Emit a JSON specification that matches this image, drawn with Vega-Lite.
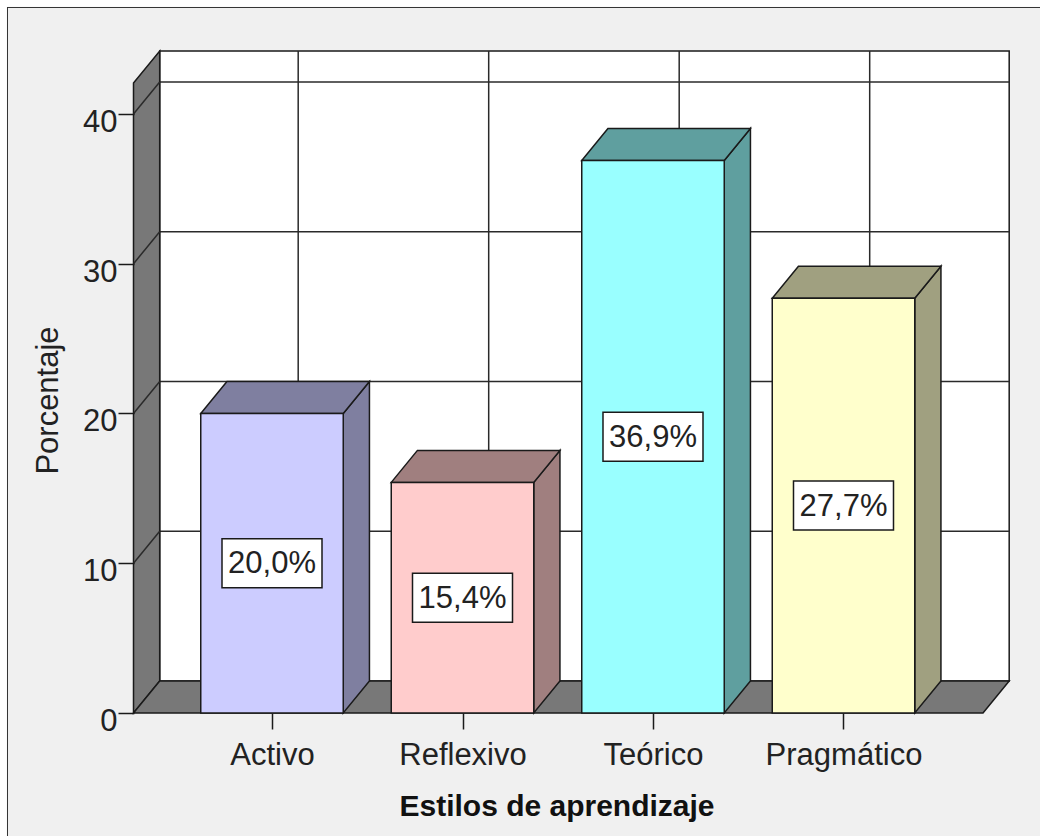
{
  "$schema": "https://vega.github.io/schema/vega-lite/v6.json",
  "width": 1033,
  "height": 829,
  "autosize": {"type": "none"},
  "padding": {"left": 7, "top": 7, "right": 0, "bottom": 0},
  "background": "white",
  "config": {"view": {"fill": "#f0f0f0", "stroke": null}, "axis": {"grid": false, "domain": false}},
  "datasets": {
    "estilos": [
      {"estilo": "Activo", "porcentaje": 20.0},
      {"estilo": "Reflexivo", "porcentaje": 15.4},
      {"estilo": "Teórico", "porcentaje": 36.9},
      {"estilo": "Pragmático", "porcentaje": 27.7}
    ],
    "rejilla": [{"valor": 10}, {"valor": 20}, {"valor": 30}, {"valor": 40}],
    "planos": [{"plano": "frente"}, {"plano": "fondo"}]
  },
  "layer": [
    {
      "data": {"values": [{}]},
      "mark": {"type": "rect", "fill": "white", "stroke": "#1a1a1a", "strokeWidth": 1.5},
      "encoding": {
        "x": {"datum": -0.5895, "type": "quantitative", "scale": {"domain": [-1.39108, 4.0315], "nice": false, "zero": false}},
        "x2": {"datum": 3.8698},
        "y": {"datum": 2.137, "type": "quantitative", "scale": {"domain": [-8.2137, 47.1452], "nice": false, "zero": false}},
        "y2": {"datum": 44.207}
      }
    },
    {
      "data": {"values": [{}]},
      "mark": {"type": "rule", "stroke": "#333333", "strokeWidth": 1},
      "encoding": {"x": {"datum": -1.3885, "type": "quantitative"}}
    },
    {
      "data": {"values": [{}]},
      "mark": {"type": "rule", "stroke": "#333333", "strokeWidth": 1},
      "encoding": {"y": {"datum": 47.112, "type": "quantitative"}}
    },
    {
      "data": {"name": "rejilla"},
      "transform": [{"calculate": "datum.valor + 2.137", "as": "yb"}],
      "mark": {"type": "rule", "stroke": "#2a2a2a", "strokeWidth": 1.5},
      "encoding": {
        "x": {"datum": -0.5895, "type": "quantitative"},
        "x2": {"datum": 3.8698},
        "y": {"field": "yb", "type": "quantitative"}
      }
    },
    {
      "data": {"name": "estilos"},
      "transform": [
        {"window": [{"op": "row_number", "as": "n"}]},
        {"calculate": "datum.n - 1 + 0.1375", "as": "xb"}
      ],
      "mark": {"type": "rule", "stroke": "#2a2a2a", "strokeWidth": 1.5},
      "encoding": {
        "x": {"field": "xb", "type": "quantitative"},
        "y": {"datum": 2.137, "type": "quantitative"},
        "y2": {"datum": 44.207}
      }
    },
    {
      "data": {"name": "planos"},
      "transform": [
        {"calculate": "datum.plano == 'fondo' ? 1 : 0", "as": "d"},
        {"calculate": "-0.727 + datum.d * 0.1375", "as": "xw"},
        {"calculate": "42.07 + datum.d * 2.137", "as": "ytop"},
        {"calculate": "datum.d * 2.137", "as": "ybot"}
      ],
      "mark": {"type": "area", "orient": "vertical", "fill": "#787878", "stroke": "#1a1a1a", "strokeWidth": 1.5, "opacity": 1},
      "encoding": {
        "x": {"field": "xw", "type": "quantitative"},
        "y": {"field": "ytop", "type": "quantitative", "stack": null},
        "y2": {"field": "ybot"}
      }
    },
    {
      "data": {"name": "rejilla"},
      "transform": [{"calculate": "datum.valor + 2.137", "as": "yb"}],
      "mark": {"type": "rule", "stroke": "#2a2a2a", "strokeWidth": 1.5},
      "encoding": {
        "x": {"datum": -0.727, "type": "quantitative"},
        "x2": {"datum": -0.5895},
        "y": {"field": "valor", "type": "quantitative"},
        "y2": {"field": "yb"}
      }
    },
    {
      "data": {"name": "planos"},
      "transform": [
        {"calculate": "datum.plano == 'fondo' ? 1 : 0", "as": "d"},
        {"calculate": "datum.d * 2.137", "as": "yf"},
        {"calculate": "-0.727 + datum.d * 0.1375", "as": "xa"},
        {"calculate": "3.7323 + datum.d * 0.1375", "as": "xz"}
      ],
      "mark": {"type": "area", "orient": "horizontal", "fill": "#787878", "stroke": "#1a1a1a", "strokeWidth": 1.5, "opacity": 1},
      "encoding": {
        "y": {"field": "yf", "type": "quantitative"},
        "x": {"field": "xa", "type": "quantitative", "stack": null},
        "x2": {"field": "xz"}
      }
    },
    {
      "data": {"name": "estilos"},
      "transform": [
        {"window": [{"op": "row_number", "as": "n"}]},
        {"fold": ["frente", "fondo"], "as": ["plano", "vacio"]},
        {"calculate": "datum.plano == 'fondo' ? 1 : 0", "as": "d"},
        {"calculate": "datum.n - 1 + 0.374 + datum.d * 0.1375", "as": "xs"},
        {"calculate": "datum.porcentaje + datum.d * 2.137", "as": "ys"},
        {"calculate": "datum.d * 2.137", "as": "ys0"}
      ],
      "mark": {"type": "area", "orient": "vertical", "stroke": "#1a1a1a", "strokeWidth": 1.5, "opacity": 1},
      "encoding": {
        "x": {"field": "xs", "type": "quantitative"},
        "y": {"field": "ys", "type": "quantitative", "stack": null},
        "y2": {"field": "ys0"},
        "fill": {"field": "estilo", "type": "nominal", "legend": null,
          "scale": {"domain": ["Activo", "Reflexivo", "Teórico", "Pragmático"], "range": ["#7f7fa0", "#a07f7f", "#5f9f9f", "#a0a080"]}}
      }
    },
    {
      "data": {"name": "estilos"},
      "transform": [
        {"window": [{"op": "row_number", "as": "n"}]},
        {"fold": ["frente", "fondo"], "as": ["plano", "vacio"]},
        {"calculate": "datum.plano == 'fondo' ? 1 : 0", "as": "d"},
        {"calculate": "datum.n - 1 - 0.374 + datum.d * 0.1375", "as": "xl"},
        {"calculate": "datum.n - 1 + 0.374 + datum.d * 0.1375", "as": "xr"},
        {"calculate": "datum.porcentaje + datum.d * 2.137", "as": "yt"}
      ],
      "mark": {"type": "area", "orient": "horizontal", "stroke": "#1a1a1a", "strokeWidth": 1.5, "opacity": 1},
      "encoding": {
        "y": {"field": "yt", "type": "quantitative"},
        "x": {"field": "xl", "type": "quantitative", "stack": null},
        "x2": {"field": "xr"},
        "fill": {"field": "estilo", "type": "nominal", "legend": null,
          "scale": {"domain": ["Activo", "Reflexivo", "Teórico", "Pragmático"], "range": ["#7f7fa0", "#a07f7f", "#5f9f9f", "#a0a080"]}}
      }
    },
    {
      "data": {"name": "estilos"},
      "transform": [
        {"window": [{"op": "row_number", "as": "n"}]},
        {"calculate": "datum.n - 1 - 0.374", "as": "x0"},
        {"calculate": "datum.n - 1 + 0.374", "as": "x1"}
      ],
      "mark": {"type": "rect", "stroke": "#1a1a1a", "strokeWidth": 1.5, "opacity": 1},
      "encoding": {
        "x": {"field": "x0", "type": "quantitative",
          "axis": {"values": [0, 1, 2, 3], "labelExpr": "['Activo','Reflexivo','Teórico','Pragmático'][datum.value]", "title": "Estilos de aprendizaje", "offset": -123, "zindex": 1, "domain": false, "grid": false, "ticks": true, "tickSize": 16, "tickColor": "#1a1a1a", "tickWidth": 1.5, "labelFont": "Liberation Sans", "labelFontSize": 31, "labelColor": "#222222", "labelPadding": 35, "labelBaseline": "alphabetic", "labelFlush": false, "labelOverlap": false, "titleFont": "Liberation Sans", "titleFontSize": 30, "titleFontWeight": "bold", "titleColor": "#111111", "titleX": 549.5, "titleY": 102, "titleBaseline": "alphabetic", "titleAlign": "center"}},
        "x2": {"field": "x1"},
        "y": {"field": "porcentaje", "type": "quantitative",
          "axis": {"values": [0, 10, 20, 30, 40], "title": "Porcentaje", "offset": -127, "zindex": 1, "domain": false, "grid": false, "ticks": true, "tickSize": 16, "tickColor": "#1a1a1a", "tickWidth": 1.5, "labelFont": "Liberation Sans", "labelFontSize": 31, "labelColor": "#222222", "labelPadding": 1, "labelBaseline": "alphabetic", "labelOffset": 17.5, "labelFlush": false, "labelOverlap": false, "titleFont": "Liberation Sans", "titleFontSize": 31, "titleFontWeight": "normal", "titleColor": "#222222", "titleAngle": -90, "titleX": -77, "titleY": 393, "titleBaseline": "alphabetic", "titleAlign": "center"}},
        "y2": {"datum": 0},
        "color": {"field": "estilo", "type": "nominal", "legend": null,
          "scale": {"domain": ["Activo", "Reflexivo", "Teórico", "Pragmático"], "range": ["#ccccff", "#ffcccc", "#99ffff", "#ffffcc"]}}
      }
    },
    {
      "data": {"name": "estilos"},
      "transform": [
        {"window": [{"op": "row_number", "as": "n"}]},
        {"calculate": "datum.n - 1", "as": "i"},
        {"calculate": "datum.porcentaje / 2", "as": "mitad"}
      ],
      "mark": {"type": "point", "shape": "M-1,-0.49L1,-0.49L1,0.49L-1,0.49Z", "size": 10000, "filled": true, "fill": "white", "stroke": "#1a1a1a", "strokeWidth": 1.5, "opacity": 1},
      "encoding": {
        "x": {"field": "i", "type": "quantitative"},
        "y": {"field": "mitad", "type": "quantitative"}
      }
    },
    {
      "data": {"name": "estilos"},
      "transform": [
        {"window": [{"op": "row_number", "as": "n"}]},
        {"calculate": "datum.n - 1", "as": "i"},
        {"calculate": "datum.porcentaje / 2", "as": "mitad"},
        {"calculate": "replace(format(datum.porcentaje, '.1f'), '.', ',') + '%'", "as": "etiqueta"}
      ],
      "mark": {"type": "text", "font": "Liberation Sans", "fontSize": 31, "align": "center", "baseline": "middle", "dy": 1, "fill": "#222222"},
      "encoding": {
        "x": {"field": "i", "type": "quantitative"},
        "y": {"field": "mitad", "type": "quantitative"},
        "text": {"field": "etiqueta"}
      }
    }
  ]
}
